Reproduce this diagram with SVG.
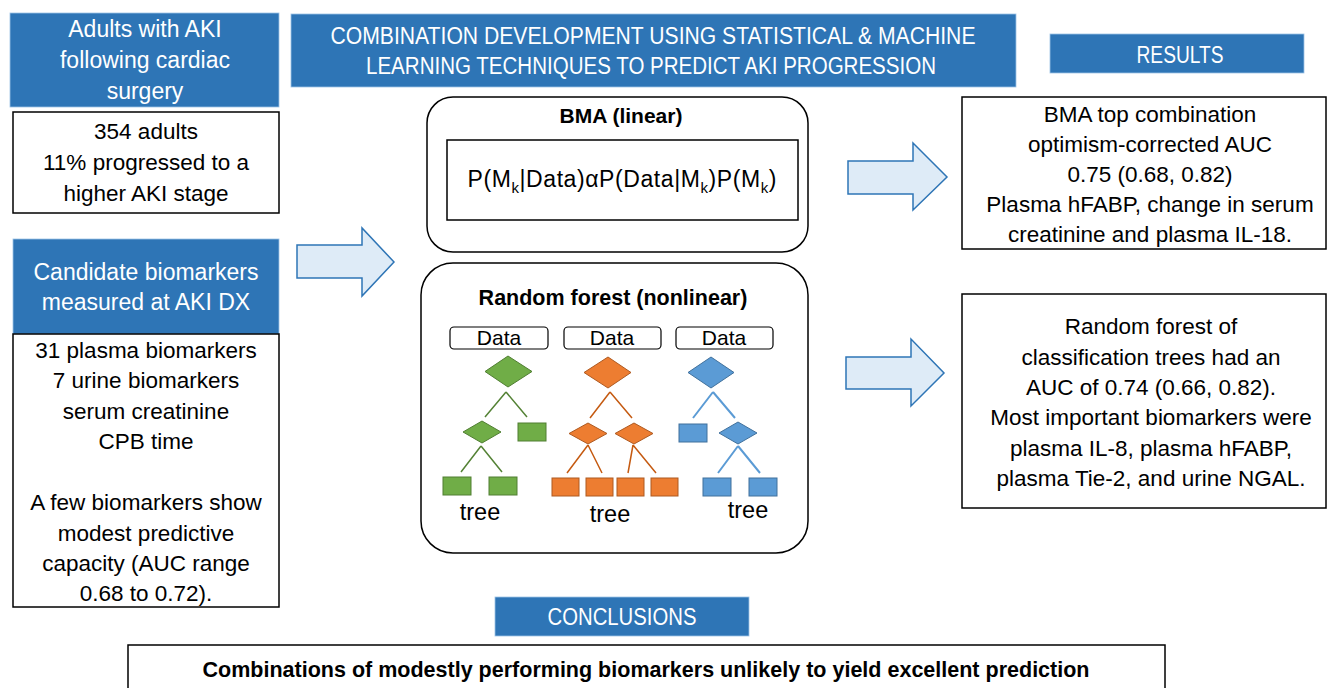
<svg xmlns="http://www.w3.org/2000/svg" width="1328" height="688" viewBox="0 0 1328 688">
  <style>
    .hdr { fill: #2E75B6; stroke: #9DC3E6; stroke-width: 0.8; }
    .box { fill: #ffffff; stroke: #000000; stroke-width: 1.5; }
    .rbox { fill: #ffffff; stroke: #000000; stroke-width: 1.5; }
    .wt { font-family: "Liberation Sans", Arial, sans-serif; font-size: 23px; fill: #ffffff; text-anchor: middle; }
    .bt { font-family: "Liberation Sans", Arial, sans-serif; font-size: 22.5px; fill: #000000; text-anchor: middle; }
    .bold { font-weight: bold; }
    .arrow { fill: #DEEBF7; stroke: #2E75B6; stroke-width: 1.5; stroke-linejoin: miter; }
    .data { fill: #ffffff; stroke: #000000; stroke-width: 1.2; }
    .g-shape { fill: #70AD47; stroke: #507E32; stroke-width: 1; }
    .g-line { stroke: #548235; stroke-width: 1.5; fill: none; }
    .o-shape { fill: #ED7D31; stroke: #AE5A21; stroke-width: 1; }
    .o-line { stroke: #C55A11; stroke-width: 1.5; fill: none; }
    .b-shape { fill: #5B9BD5; stroke: #41719C; stroke-width: 1; }
    .b-line { stroke: #5B9BD5; stroke-width: 2; fill: none; }
  </style>

  <rect width="1328" height="688" fill="#ffffff"/>

  <!-- Population header -->
  <g id="population-header">
    <rect class="hdr" x="10" y="13" width="269" height="94"/>
    <text class="wt" x="145" y="37">Adults with AKI</text>
    <text class="wt" x="145" y="68">following cardiac</text>
    <text class="wt" x="145" y="99">surgery</text>
  </g>

  <!-- Population details -->
  <g id="population">
    <rect class="box" x="13" y="112" width="266" height="101"/>
    <text class="bt" x="146" y="139">354 adults</text>
    <text class="bt" x="146" y="170">11% progressed to a</text>
    <text class="bt" x="146" y="201">higher AKI stage</text>
  </g>

  <!-- Candidate biomarkers -->
  <g id="biomarkers">
    <rect class="hdr" x="13" y="239" width="266" height="95"/>
    <text class="wt" x="146" y="280">Candidate biomarkers</text>
    <text class="wt" x="146" y="310">measured at AKI DX</text>
    <rect class="box" x="13" y="334" width="266" height="273"/>
    <text class="bt" x="146" y="358">31 plasma biomarkers</text>
    <text class="bt" x="146" y="388">7 urine biomarkers</text>
    <text class="bt" x="146" y="419">serum creatinine</text>
    <text class="bt" x="146" y="449">CPB time</text>
    <text class="bt" x="146" y="510">A few biomarkers show</text>
    <text class="bt" x="146" y="541">modest predictive</text>
    <text class="bt" x="146" y="571">capacity (AUC range</text>
    <text class="bt" x="146" y="601">0.68 to 0.72).</text>
  </g>

  <!-- Methods header -->
  <g id="methods-header">
    <rect class="hdr" x="291" y="14" width="725" height="73"/>
    <text class="wt" x="653" y="44" textLength="645" lengthAdjust="spacingAndGlyphs">COMBINATION DEVELOPMENT USING STATISTICAL &amp; MACHINE</text>
    <text class="wt" x="651" y="74" textLength="570" lengthAdjust="spacingAndGlyphs">LEARNING TECHNIQUES TO PREDICT AKI PROGRESSION</text>
  </g>

  <!-- BMA -->
  <g id="bma">
    <rect class="rbox" x="427" y="97" width="381" height="155" rx="26" ry="26"/>
    <text class="bt bold" x="621" y="123" style="font-size:21px">BMA (linear)</text>
    <rect class="box" x="447" y="140" width="351" height="80"/>
    <text class="bt" x="622" y="187" style="font-size:23px" textLength="309" lengthAdjust="spacing">P(M<tspan dy="6" font-size="15">k</tspan><tspan dy="-6">|Data)αP(Data|M</tspan><tspan dy="6" font-size="15">k</tspan><tspan dy="-6">)P(M</tspan><tspan dy="6" font-size="15">k</tspan><tspan dy="-6">)</tspan></text>
  </g>

  <!-- Random forest -->
  <g id="random-forest">
    <rect class="rbox" x="421" y="263" width="387" height="290" rx="32" ry="32"/>
    <text class="bt bold" x="613" y="305" style="font-size:21.5px">Random forest (nonlinear)</text>

    <!-- tree 1 -->
    <g id="tree-green">
      <rect class="data" x="450" y="327" width="98" height="22" rx="4"/>
      <text class="bt" x="499" y="345" style="font-size:21px">Data</text>
      <polygon class="g-shape" points="508,356 532,371.5 508,387 485,371.5"/>
      <path class="g-line" d="M506,392 L485,417 M506,392 L527,417"/>
      <polygon class="g-shape" points="482,421 501,432 482,443 463,432"/>
      <rect class="g-shape" x="518" y="423" width="28" height="18"/>
      <path class="g-line" d="M481,446 L461,472 M481,446 L502,472"/>
      <rect class="g-shape" x="443" y="477" width="28" height="18"/>
      <rect class="g-shape" x="489" y="477" width="28" height="18"/>
      <text class="bt" x="480" y="520" style="font-size:23.5px">tree</text>
    </g>

    <!-- tree 2 -->
    <g id="tree-orange">
      <rect class="data" x="564" y="327" width="97" height="22" rx="4"/>
      <text class="bt" x="612" y="345" style="font-size:21px">Data</text>
      <polygon class="o-shape" points="608,357 631,372.5 608,388 584,372.5"/>
      <path class="o-line" d="M610,392 L590,418 M610,392 L632,418"/>
      <polygon class="o-shape" points="588,423 607,433.5 588,444 569,433.5"/>
      <polygon class="o-shape" points="634,423 653,433.5 634,444 615,433.5"/>
      <path class="o-line" d="M588,445 L567,473 M588,445 L602,473 M633,445 L628,473 M633,445 L656,473"/>
      <rect class="o-shape" x="552" y="478" width="27" height="18"/>
      <rect class="o-shape" x="586" y="478" width="27" height="18"/>
      <rect class="o-shape" x="617" y="478" width="27" height="18"/>
      <rect class="o-shape" x="651" y="478" width="27" height="18"/>
      <text class="bt" x="610" y="522" style="font-size:23.5px">tree</text>
    </g>

    <!-- tree 3 -->
    <g id="tree-blue">
      <rect class="data" x="676" y="327" width="97" height="22" rx="4"/>
      <text class="bt" x="724" y="345" style="font-size:21px">Data</text>
      <polygon class="b-shape" points="711,357 734,372.5 711,388 688,372.5"/>
      <path class="b-line" d="M713,392 L693,418 M713,392 L735,418"/>
      <rect class="b-shape" x="679" y="424" width="28" height="18"/>
      <polygon class="b-shape" points="738,422 757,433 738,444 719,433"/>
      <path class="b-line" d="M738,446 L718,473 M738,446 L760,473"/>
      <rect class="b-shape" x="703" y="478" width="28" height="18"/>
      <rect class="b-shape" x="749" y="478" width="28" height="18"/>
      <text class="bt" x="748" y="518" style="font-size:23.5px">tree</text>
    </g>
  </g>

  <!-- Results header -->
  <g id="results-header">
    <rect class="hdr" x="1050" y="34" width="254" height="39"/>
    <text class="wt" x="1180" y="63" textLength="87" lengthAdjust="spacingAndGlyphs">RESULTS</text>
  </g>

  <!-- BMA result -->
  <g id="bma-result">
    <rect class="box" x="962" y="97" width="364" height="152"/>
    <text class="bt" x="1150" y="122">BMA top combination</text>
    <text class="bt" x="1150" y="152">optimism-corrected AUC</text>
    <text class="bt" x="1150" y="182">0.75 (0.68, 0.82)</text>
    <text class="bt" x="1150" y="212">Plasma hFABP, change in serum</text>
    <text class="bt" x="1150" y="242">creatinine and plasma IL-18.</text>
  </g>

  <!-- Random forest result -->
  <g id="rf-result">
    <rect class="box" x="962" y="294" width="364" height="214"/>
    <text class="bt" x="1151" y="334">Random forest of</text>
    <text class="bt" x="1151" y="365">classification trees had an</text>
    <text class="bt" x="1151" y="395">AUC of 0.74 (0.66, 0.82).</text>
    <text class="bt" x="1151" y="425">Most important biomarkers were</text>
    <text class="bt" x="1151" y="456">plasma IL-8, plasma hFABP,</text>
    <text class="bt" x="1151" y="486">plasma Tie-2, and urine NGAL.</text>
  </g>

  <!-- Conclusions header -->
  <g id="conclusions-header">
    <rect class="hdr" x="495" y="597" width="254" height="39"/>
    <text class="wt" x="622" y="625" textLength="149" lengthAdjust="spacingAndGlyphs">CONCLUSIONS</text>
  </g>

  <!-- Conclusion -->
  <g id="conclusion">
    <rect class="box" x="128" y="645" width="1037" height="50"/>
    <text class="bt bold" x="646" y="677" style="font-size:22px" textLength="887" lengthAdjust="spacingAndGlyphs">Combinations of modestly performing biomarkers unlikely to yield excellent prediction</text>
  </g>

  <!-- Block arrows -->
  <g id="connectors">
    <polygon class="arrow" points="297,245 362,245 362,228 394,262 362,296 362,278 297,278"/>
    <polygon class="arrow" points="848,161 913,161 913,143 947,177 913,210 913,194 848,194"/>
    <polygon class="arrow" points="846,357 911,357 911,339 944,373 911,406 911,389 846,389"/>
  </g>
</svg>
